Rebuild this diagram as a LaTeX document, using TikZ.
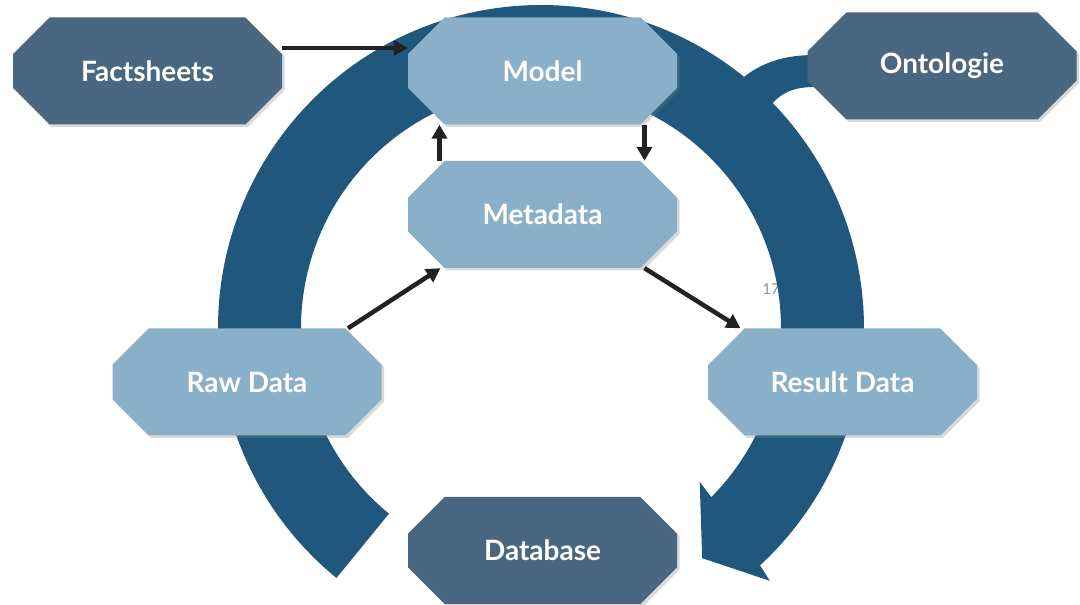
\documentclass[tikz,border=0pt]{standalone}
\usepackage{fontspec}
\setmainfont{Lato}
\usetikzlibrary{arrows.meta,shapes.misc,shadows}

\definecolor{ringblue}{HTML}{1F577D}
\definecolor{boxdark}{HTML}{496780}
\definecolor{boxlight}{HTML}{8AAFC8}
\definecolor{arrowgray}{HTML}{222222}
\definecolor{pagegray}{HTML}{8A8FA8}

\tikzset{
  box/.style={chamfered rectangle, chamfered rectangle angle=45,
    chamfered rectangle xsep=26pt, chamfered rectangle ysep=26pt,
    minimum width=269pt, minimum height=107pt, inner sep=0pt,
    text=white, font=\fontsize{28}{32}\selectfont\bfseries,
    drop shadow={shadow xshift=2.5pt, shadow yshift=-2.5pt, opacity=.3}},
  darkbox/.style={box, fill=boxdark},
  lightbox/.style={box, fill=boxlight},
  flow/.style={->, line width=4.5pt, draw=arrowgray}
}

\begin{document}
\begin{tikzpicture}[x=1pt, y=1pt, node distance=395pt,
    >={Triangle[length=14pt,width=15pt]}]
\useasboundingbox (0,0) rectangle (1080,605);

\node[text=pagegray, font=\fontsize{15}{18}\selectfont] (page) at (771,316) {17};

% cycle ring with its branch to the ontology
\fill[ringblue] (738,523) .. controls (760,543) and (785,550) .. (815,550)
  -- (815,518) .. controls (795,518) and (782,513) .. (772,501) -- (760,493) -- cycle;
\begin{scope}[shift={(541,277)}]
\fill[ringblue] (230.7:323) arc[start angle=230.7, end angle=-47.3, radius=323]
  -- (-47.85:341) -- (-55:281) -- (-44.1:221) -- (-44.8:240)
  arc[start angle=-44.8, end angle=230.7, radius=240] -- cycle;
\end{scope}

\node[darkbox] (fact) at (147.5,534) {Factsheets};
\node[lightbox, right of=fact] (model) {Model};
\node[darkbox, right of=model, node distance=399.5pt, yshift=5pt] (onto) {Ontologie};
\node[lightbox, below of=model, node distance=143.5pt] (meta) {Metadata};
\node[lightbox, below of=meta, node distance=167.5pt, xshift=-295.5pt] (raw) {Raw Data};
\node[lightbox, below of=meta, node distance=167.5pt, xshift=300pt] (result) {Result Data};
\node[darkbox, below of=meta, node distance=336pt] (db) {Database};

\draw[flow] ([yshift=23pt]fact.east) -- ([yshift=23pt]model.west);
\draw[flow] ([xshift=-103pt]meta.north) -- ([xshift=-103pt]model.south);
\draw[flow] ([xshift=102pt]model.south) -- ([xshift=102pt]meta.north);
\draw[flow] ([xshift=101pt]raw.north) -- ([xshift=-102pt]meta.south);
\draw[flow] ([xshift=102pt]meta.south) -- ([xshift=-102pt]result.north);
    %
\end{tikzpicture}
\end{document}
